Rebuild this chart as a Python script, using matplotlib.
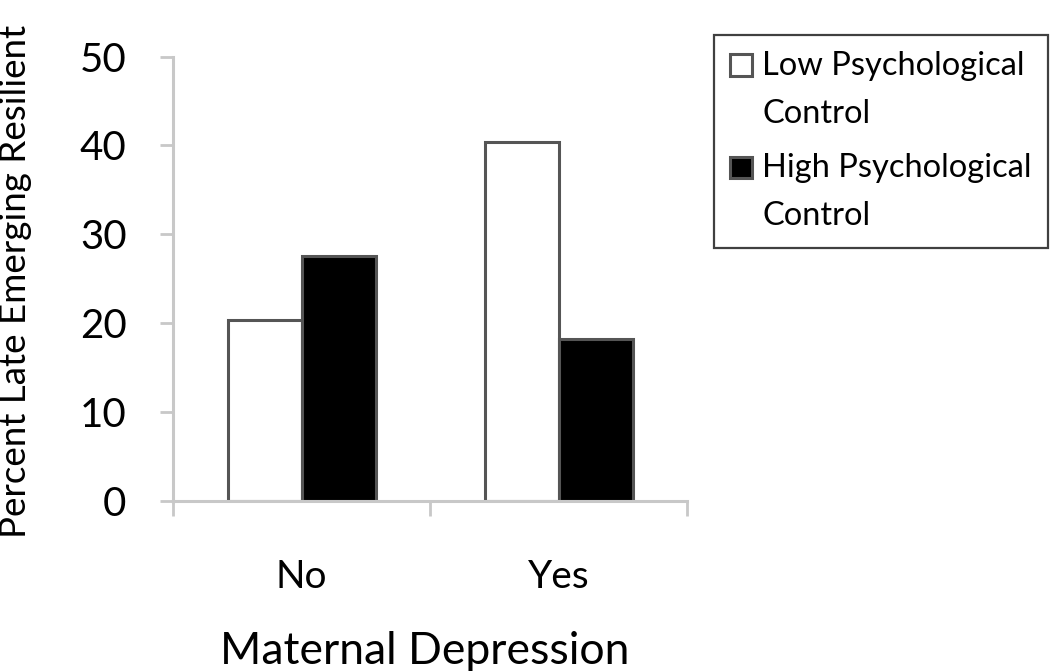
import numpy as np
import matplotlib
matplotlib.use("Agg")
import matplotlib.pyplot as plt
from matplotlib.container import BarContainer
from matplotlib.patches import Rectangle
from matplotlib.legend_handler import HandlerPatch, update_from_first_child

plt.rcParams['font.family'] = ['Lato', 'DejaVu Sans']

categories = ['No', 'Yes']
series_names = ['Low Psychological\nControl', 'High Psychological\nControl']
low_control = [20.4, 40.4]
high_control = [27.5, 18.2]
y_ticks = [0, 10, 20, 30, 40, 50]

AXIS_GRAY = '#c8c8c8'
EDGE_GRAY = '#555555'


def upper_square(legend, orig_handle, xdescent, ydescent, width, height, fontsize):
	# put the square next to the first line of a two-line label
	side = 0.66 * fontsize
	return Rectangle((-xdescent, -ydescent + 0.8 * fontsize), side, side)


fig = plt.figure(figsize=(10.5, 6.71), dpi=100)
ax = fig.add_axes([0.1648, 0.2538, 0.4895, 0.6617])

x = np.arange(len(categories))
w = 0.288
ax.bar(x - w / 2, low_control, w, color='white', edgecolor=EDGE_GRAY, linewidth=2.2,
	label=series_names[0], zorder=3)
ax.bar(x + w / 2, high_control, w, color='black', edgecolor=EDGE_GRAY, linewidth=2.2,
	label=series_names[1], zorder=3)

ax.set_xlim(-0.5, len(categories) - 0.5)
ax.set_ylim(0, 50)
ax.set_yticks(y_ticks)
ax.tick_params(axis='y', direction='out', length=9.5, width=2, color=AXIS_GRAY,
	labelsize=29, pad=24)

# tick marks between categories, labels centred on categories
ax.set_xticks(np.arange(len(categories) + 1) - 0.5)
ax.set_xticklabels([])
ax.set_xticks(x, minor=True)
ax.set_xticklabels(categories, minor=True)
ax.tick_params(axis='x', which='major', direction='out', length=11, width=2, color=AXIS_GRAY)
ax.tick_params(axis='x', which='minor', length=0, labelsize=28, pad=42)

for side in ['top', 'right']:
	ax.spines[side].set_visible(False)
for side in ['left', 'bottom']:
	ax.spines[side].set_color(AXIS_GRAY)
	ax.spines[side].set_linewidth(2.2)
	ax.spines[side].set_zorder(4)

ax.set_xlabel('Maternal Depression', fontsize=32)
ax.xaxis.set_label_coords(0.49, -0.294)
ax.set_ylabel('Percent Late Emerging Resilient', fontsize=26.5, loc='bottom')
ax.yaxis.set_label_coords(-0.275, -0.083)

leg = ax.legend(loc='upper left', bbox_to_anchor=(0.680, 0.948), bbox_transform=fig.transFigure,
	fontsize=23.5, frameon=True, fancybox=False, edgecolor='#404040', framealpha=1,
	handlelength=0.68, handleheight=0.7, handletextpad=0.3, labelspacing=0.75,
	borderpad=0.5, borderaxespad=0,
	handler_map={BarContainer: HandlerPatch(patch_func=upper_square,
		update_func=update_from_first_child)})
leg.get_frame().set_linewidth(1.6)
for t in leg.get_texts():
	t.set_linespacing(1.74)

fig.savefig('out.png', dpi=100)
